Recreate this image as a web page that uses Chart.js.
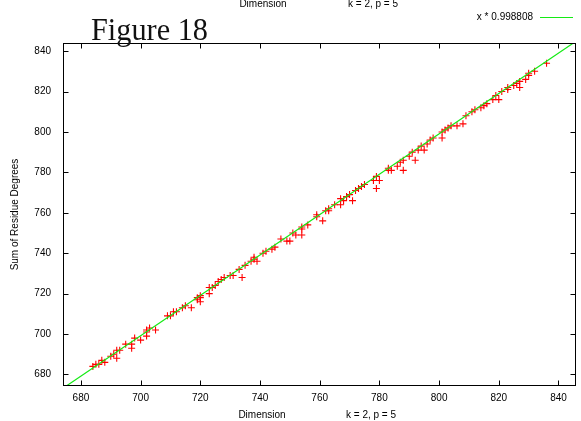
<!DOCTYPE html>
<html>
<head>
<meta charset="utf-8">
<title>Figure 18</title>
<script src="https://cdn.jsdelivr.net/npm/chart.js@4/dist/chart.umd.min.js"></script>
<style>
  html, body { margin: 0; padding: 0; background: #fff; }
  #wrap { width: 581px; height: 421px; position: relative; }
</style>
</head>
<body>
<div id="wrap"><canvas id="c" width="581" height="421"></canvas></div>
<script>
// Dimension vs. sum of residue degrees, k = 2, p = 5
const dims = [
  684, 685, 686, 687, 688, 690, 691, 692, 692, 693,
  695, 697, 697, 698, 700, 702, 702, 702, 703, 705,
  709, 710, 711, 712, 714, 715, 717, 719, 719, 720,
  720, 720, 723, 723, 724, 725, 726, 727, 728, 730,
  731, 733, 734, 735, 737, 738, 739, 738, 741, 742,
  744, 745, 747, 749, 750, 751, 752, 754, 754, 754,
  756, 759, 759, 761, 762, 763, 763, 765, 767, 767,
  768, 769, 770, 771, 772, 773, 774, 775, 778, 779,
  779, 780, 783, 783, 784, 786, 787, 788, 788, 790,
  791, 792, 793, 794, 795, 796, 797, 798, 801, 801,
  802, 803, 804, 806, 808, 809, 811, 812, 814, 815,
  816, 818, 819, 820, 821, 823, 823, 825, 826, 827,
  827, 829, 830, 830, 832, 836
];
const degrees = [
  684, 685, 685, 687, 686, 689, 690, 692, 688, 692,
  695, 695, 693, 698, 697, 702, 701, 699, 703, 702,
  709, 709, 711, 711, 713, 714, 713, 718, 717, 719,
  718, 716, 720, 723, 723, 724, 726, 727, 728, 729,
  729, 732, 728, 734, 736, 737, 736, 738, 740, 741,
  742, 743, 747, 746, 746, 750, 749, 753, 752, 749,
  754, 758, 759, 756, 761, 761, 762, 764, 764, 767,
  766, 768, 769, 766, 771, 772, 773, 774, 776, 772,
  778, 776, 781, 782, 781, 783, 785, 786, 781, 788,
  790, 786, 791, 793, 791, 794, 796, 797, 800, 797,
  801, 802, 803, 803, 804, 808, 810, 811, 812, 813,
  814, 816, 818, 816, 820, 821, 822, 823, 824, 822,
  825, 826, 828, 829, 830, 834
];

// fitted line y = x * 0.998808
const fitFactor = 0.998808;
const fitLabel = 'x * 0.998808';

const xRange = [674, 846];
const yRange = [674.3, 844];
const xTickValues = [680, 700, 720, 740, 760, 780, 800, 820, 840];
const yTickValues = [680, 700, 720, 740, 760, 780, 800, 820, 840];

const figureTitle = 'Figure 18';
const xTitle = 'Dimension';
const paramText = 'k = 2, p = 5';
const yTitle = 'Sum of Residue Degrees';

const points = dims.map((d, i) => ({ x: d, y: degrees[i] }));
const fitLine = xRange.map(v => ({ x: v, y: v * fitFactor }));

const SANS = '"Liberation Sans", Arial, sans-serif';
const SERIF = '"Liberation Serif", "DejaVu Serif", serif';
const GREEN = 'rgb(20,235,20)';

// frame with inward ticks on all four sides (gnuplot style)
const framePlugin = {
  id: 'frame',
  afterDatasetsDraw(chart) {
    const { ctx, chartArea: a, scales } = chart;
    const L = Math.round(a.left) + 0.5, R = Math.round(a.right) - 0.5;
    const T = Math.round(a.top) + 0.5, B = Math.round(a.bottom) - 0.5;
    const len = 5;
    ctx.save();
    ctx.strokeStyle = '#000';
    ctx.lineWidth = 1;
    ctx.beginPath();
    scales.x.ticks.forEach(t => {
      const px = Math.round(scales.x.getPixelForValue(t.value)) + 0.5;
      ctx.moveTo(px, B); ctx.lineTo(px, B - len);
      ctx.moveTo(px, T); ctx.lineTo(px, T + len);
    });
    scales.y.ticks.forEach(t => {
      const py = Math.round(scales.y.getPixelForValue(t.value)) + 0.5;
      ctx.moveTo(L, py); ctx.lineTo(L + len, py);
      ctx.moveTo(R, py); ctx.lineTo(R - len, py);
    });
    ctx.stroke();
    ctx.strokeRect(L, T, R - L, B - T);
    ctx.restore();
  }
};

// surrounding texts and key
const labelsPlugin = {
  id: 'labels',
  afterDraw(chart) {
    const { ctx, chartArea: a } = chart;
    ctx.save();
    ctx.fillStyle = '#000';
    ctx.font = '10px ' + SANS;
    ctx.textBaseline = 'middle';
    ctx.textAlign = 'center';
    ctx.fillText(xTitle, 262, 415.5);
    ctx.fillText(paramText, 371, 415.5);
    ctx.fillText(xTitle, 263, 4);
    ctx.fillText(paramText, 373, 4);

    // key
    ctx.textAlign = 'right';
    ctx.fillText(fitLabel, 533, 17.5);
    ctx.strokeStyle = GREEN;
    ctx.lineWidth = 1.2;
    ctx.beginPath();
    ctx.moveTo(540, 17.5); ctx.lineTo(573, 17.5);
    ctx.stroke();

    // y title
    ctx.save();
    ctx.translate(15, (a.top + a.bottom) / 2);
    ctx.rotate(-Math.PI / 2);
    ctx.textAlign = 'center';
    ctx.fillText(yTitle, 0, 0);
    ctx.restore();

    // figure caption, condensed to its box width
    ctx.font = '31px ' + SERIF;
    ctx.textAlign = 'left';
    ctx.textBaseline = 'alphabetic';
    ctx.fillStyle = '#111';
    const w = ctx.measureText(figureTitle).width;
    const sx = 117 / w;
    ctx.translate(91, 39.5);
    ctx.scale(sx, 1);
    ctx.fillText(figureTitle, 0, 0);
    ctx.restore();
  }
};

new Chart(document.getElementById('c'), {
  type: 'scatter',
  data: {
    datasets: [
      {
        type: 'line',
        label: fitLabel,
        data: fitLine,
        borderColor: GREEN,
        borderWidth: 1.2,
        pointRadius: 0,
        fill: false,
        tension: 0
      },
      {
        label: 'data',
        data: points,
        pointStyle: 'cross',
        pointRadius: 3.5,
        pointHoverRadius: 3.5,
        borderColor: '#ff0000',
        backgroundColor: '#ff0000',
        borderWidth: 1.1
      }
    ]
  },
  options: {
    responsive: false,
    animation: false,
    devicePixelRatio: 1,
    layout: { padding: { left: 0, right: 2, top: 43, bottom: 0 } },
    plugins: {
      legend: { display: false },
      tooltip: { enabled: false },
      title: { display: false }
    },
    scales: {
      x: {
        type: 'linear',
        min: xRange[0],
        max: xRange[1],
        grid: { display: false, drawTicks: false },
        border: { display: false },
        afterBuildTicks: s => { s.ticks = xTickValues.map(v => ({ value: v })); },
        afterFit: s => { s.height = 35; },
        ticks: {
          padding: 6,
          color: '#000',
          font: { family: SANS, size: 10 },
          maxRotation: 0,
          autoSkip: false,
          callback: v => String(v)
        }
      },
      y: {
        type: 'linear',
        min: yRange[0],
        max: yRange[1],
        grid: { display: false, drawTicks: false },
        border: { display: false },
        afterBuildTicks: s => { s.ticks = yTickValues.map(v => ({ value: v })); },
        afterFit: s => { s.width = 63; },
        ticks: {
          padding: 12,
          color: '#000',
          font: { family: SANS, size: 10 },
          autoSkip: false,
          callback: v => String(v)
        }
      }
    }
  },
  plugins: [framePlugin, labelsPlugin]
});
</script>
</body>
</html>
